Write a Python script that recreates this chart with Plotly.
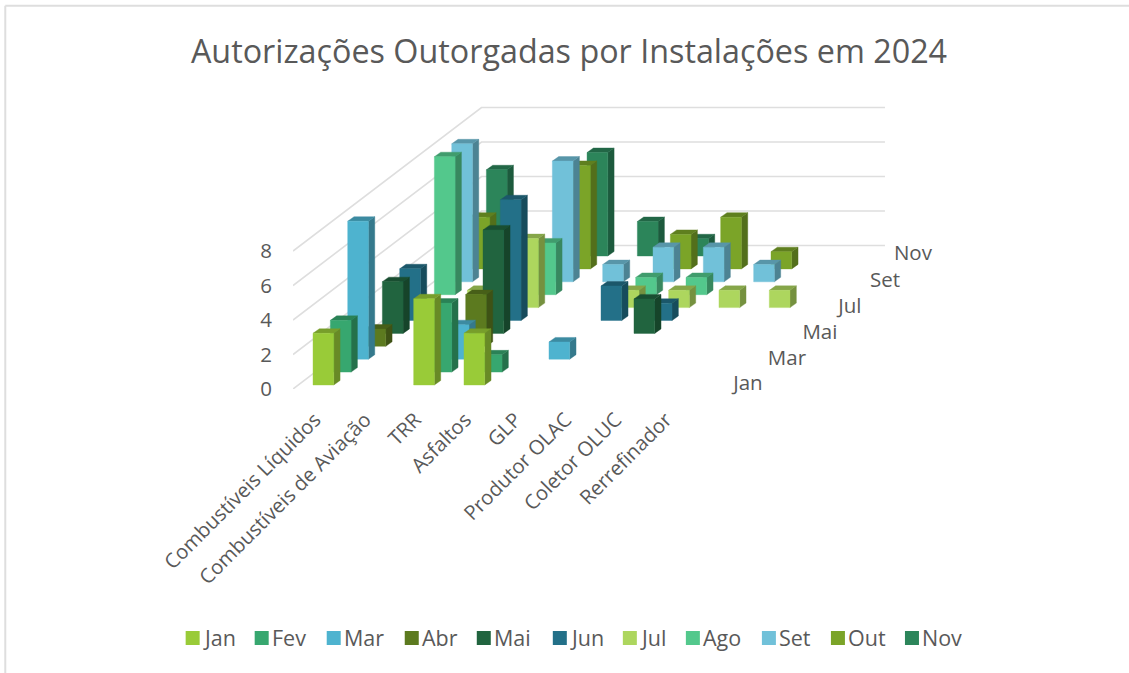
import plotly.graph_objects as go

categories = ["Combustíveis Líquidos", "Combustíveis de Aviação", "TRR", "Asfaltos", "GLP",
              "Produtor OLAC", "Coletor OLUC", "Rerrefinador"]
months = ["Jan", "Fev", "Mar", "Abr", "Mai", "Jun", "Jul", "Ago", "Set", "Out", "Nov"]
jan = [3, 0, 5, 3, 0, 0, 0, 0]
fev = [3, 0, 4, 1, 0, 0, 0, 0]
mar = [8, 0, 2, 0, 1, 0, 0, 0]
abr = [1, 0, 3, 0, 0, 0, 0, 0]
mai = [3, 0, 6, 0, 0, 2, 0, 0]
jun = [3, 0, 7, 0, 2, 1, 0, 0]
jul = [0, 1, 4, 0, 1, 1, 1, 1]
ago = [8, 0, 3, 0, 1, 1, 0, 0]
set_ = [8, 0, 7, 1, 2, 2, 1, 0]
out = [3, 0, 6, 0, 2, 3, 1, 0]
nov = [5, 0, 6, 2, 1, 0, 0, 0]
series = [jan, fev, mar, abr, mai, jun, jul, ago, set_, out, nov]
colors = ["#99CB38", "#37A76F", "#4EB3CF", "#5C7A1F", "#21643F", "#237088",
          "#ADD65E", "#53C88C", "#71C1D9", "#7BA428", "#2C855A"]
value_ticks = [0, 2, 4, 6, 8]
depth_labels = ["Jan", "Mar", "Mai", "Jul", "Set", "Nov"]

W, H = 1129, 673
PX_X0, PX_Y0 = 318.3, 389.0      # pixel of x=0, y=0
UX, UY = 50.3, 17.25             # pixels per category / per value unit
L, R, T = 293.3, 1000.0, 100.0   # plot area
FONT = "Open Sans"
TXT = "#595959"
DX, DY = 17.33 / UX, 12.9 / UY   # oblique shift of one series
D0 = 0.31                        # depth of the first row
BW = 20.7 / UX                   # bar width
SX, SY = 6.33 / UX, 4.5 / UY     # visible bar depth


def shade(hexcol, f):
    r, g, b = (int(hexcol[k:k + 2], 16) for k in (1, 3, 5))
    return f"rgb({int(r * f)},{int(g * f)},{int(b * f)})"


def paper_x(px):
    return (px - L) / (R - L)


def paper_y(py):
    return (PX_Y0 - py) / (PX_Y0 - T)


fig = go.Figure()

# walls: gridlines go from the front edge to the back wall, then along it
wall_x0 = (L - PX_X0) / UX
wall_dx, wall_dy = 188.4 / UX, 143.5 / UY
wall_end = (885 - PX_X0) / UX
gx, gy = [], []
for v in value_ticks:
    gx += [wall_x0, wall_x0 + wall_dx, wall_end, None]
    gy += [v, v + wall_dy, v + wall_dy, None]
fig.add_trace(go.Scatter(x=gx, y=gy, mode="lines", line=dict(color="#DEDEDE", width=1.6),
                         showlegend=False, hoverinfo="skip"))

# bars, from the back row to the front row
for j in range(len(series) - 1, -1, -1):
    sx0 = (j + D0) * DX
    sy0 = (j + D0) * DY
    fx, fy, rx, ry, tx, ty = [], [], [], [], [], []
    for i, v in enumerate(series[j]):
        if not v:
            continue
        a = i - BW / 2 + sx0
        b = a + BW
        fx += [a, b, b, a, a, None]
        fy += [sy0, sy0, sy0 + v, sy0 + v, sy0, None]
        rx += [b, b + SX, b + SX, b, b, None]
        ry += [sy0, sy0 + SY, sy0 + v + SY, sy0 + v, sy0, None]
        tx += [a, b, b + SX, a + SX, a, None]
        ty += [sy0 + v, sy0 + v, sy0 + v + SY, sy0 + v + SY, sy0 + v, None]
    for xs, ys, col in ((rx, ry, shade(colors[j], 0.68)),
                        (tx, ty, shade(colors[j], 0.78)),
                        (fx, fy, colors[j])):
        fig.add_trace(go.Scatter(x=xs, y=ys, mode="lines", fill="toself", fillcolor=col,
                                 line=dict(color=col, width=0.4), name=months[j],
                                 showlegend=False, hoverinfo="skip"))

# depth axis labels
depth_px = [748, 787, 820, 850, 885, 913]
depth_py = [385, 360, 334, 308, 282, 255]
lab_x = [(px - PX_X0) / UX for px in depth_px]
lab_y = [(PX_Y0 - py) / UY for py in depth_py]
fig.add_trace(go.Scatter(x=lab_x, y=lab_y, mode="text", text=depth_labels, cliponaxis=False,
                         textposition="middle center", textfont=dict(family=FONT, size=20.5, color=TXT),
                         showlegend=False, hoverinfo="skip"))

# frame
shapes = [
    dict(type="line", xref="paper", yref="paper", x0=paper_x(5.7), x1=paper_x(5.7),
         y0=paper_y(5.7), y1=paper_y(673), line=dict(color="#DEDEDE", width=2)),
    dict(type="line", xref="paper", yref="paper", x0=paper_x(5.7), x1=paper_x(1129),
         y0=paper_y(5.7), y1=paper_y(5.7), line=dict(color="#DEDEDE", width=2)),
]

# legend row
legend_px = [186, 255, 327, 405, 477, 553, 623, 686, 762, 831, 905]
annotations = []
for name, col, px in zip(months, colors, legend_px):
    shapes.append(dict(type="rect", xref="paper", yref="paper", x0=paper_x(px), x1=paper_x(px + 14),
                       y0=paper_y(631), y1=paper_y(645), fillcolor=col, line=dict(width=0)))
    annotations.append(dict(xref="paper", yref="paper", x=paper_x(px + 15), y=paper_y(637.5), text=name,
                            showarrow=False, xanchor="left", yanchor="middle",
                            font=dict(family=FONT, size=21.5, color=TXT)))

fig.update_layout(
    width=W, height=H, autosize=False,
    margin=dict(l=L, r=W - R, t=T, b=H - PX_Y0, pad=0),
    paper_bgcolor="white", plot_bgcolor="white", showlegend=False,
    title=dict(text="Autorizações Outorgadas por Instalações em 2024", xref="container", yref="container",
               x=569 / W, y=1 - 52 / H, xanchor="center", yanchor="middle",
               font=dict(family=FONT, size=32.3, color=TXT)),
    xaxis=dict(range=[(L - PX_X0) / UX, (R - PX_X0) / UX], showgrid=False, zeroline=False, showline=False,
               tickmode="array", tickvals=[i * 0.996 - 0.06 for i in range(len(categories))], ticktext=categories,
               tickangle=-45, ticks="outside", ticklen=10, tickcolor="rgba(0,0,0,0)",
               tickfont=dict(family=FONT, size=20.2, color=TXT), automargin=False),
    yaxis=dict(range=[0, (PX_Y0 - T) / UY], showgrid=False, zeroline=False, showline=False,
               tickmode="array", tickvals=value_ticks, ticks="outside", ticklen=16,
               tickcolor="rgba(0,0,0,0)", tickfont=dict(family=FONT, size=20.5, color=TXT), automargin=False),
    shapes=shapes, annotations=annotations,
)

fig.write_html("out.html", config={"displayModeBar": False},
               post_script="document.body.style.margin='0';document.documentElement.style.overflow='hidden';")
